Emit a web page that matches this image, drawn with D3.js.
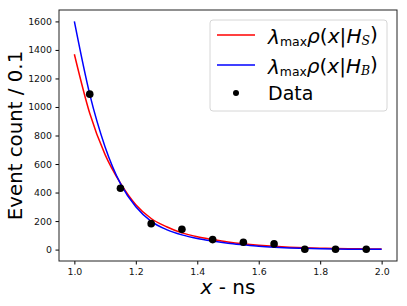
<!DOCTYPE html>
<html>
    <head>
        <title></title>
        <script src="https://d3js.org/d3.v7.min.js"></script>
    </head>

    <body style="margin:0">
        <svg id="my_dataviz" width="407" height="306"></svg>
    </body>

    <script>
        // data
        var dataX = [1.05, 1.15, 1.25, 1.35, 1.45, 1.55, 1.65, 1.75, 1.85, 1.95]
        var dataY = [1090, 430, 182, 142, 70, 51, 40, 2, 2, 2]

        // model curves, sampled every 0.05
        var curveX = [1.00, 1.05, 1.10, 1.15, 1.20, 1.25, 1.30, 1.35, 1.40, 1.45, 1.50,
                      1.55, 1.60, 1.65, 1.70, 1.75, 1.80, 1.85, 1.90, 1.95, 2.00]
        var signalY = [1370, 956, 666, 466, 315, 218, 160, 117, 90, 71, 54,
                       41, 31, 23, 17, 13, 10, 7, 6, 5, 4]
        var backgroundY = [1600, 1090, 720, 462, 300, 198, 140, 103, 78, 60, 45,
                           34, 24, 17, 12, 9, 6, 4, 3, 2, 2]

        var xTicks = [1.0, 1.2, 1.4, 1.6, 1.8, 2.0]
        var yTicks = [0, 200, 400, 600, 800, 1000, 1200, 1400, 1600]

        var margin = { top: 10, right: 10, bottom: 45, left: 59 }
        var width = 407 - margin.left - margin.right
        var height = 306 - margin.top - margin.bottom

        var svg = d3.select("#my_dataviz")
        .style("font-family", "DejaVu Sans")
        .append("g")
        .attr("transform", "translate(" + margin.left + "," + margin.top + ")")

        var x = d3.scaleLinear().domain([0.95, 2.05]).range([0, width])
        var y = d3.scaleLinear().domain([-80, 1680]).range([height, 0])

        // axes
        svg.append("g")
        .attr("transform", "translate(0," + height + ")")
        .call(d3.axisBottom(x).tickValues(xTicks).tickFormat(d3.format(".1f")).tickSize(3.5).tickPadding(3.5))
        svg.append("g")
        .call(d3.axisLeft(y).tickValues(yTicks).tickFormat(d3.format("d")).tickSize(3.5).tickPadding(3.5))

        svg.selectAll(".tick text")
        .style("font-size", "9.4px")
        .style("font-family", "DejaVu Sans")
        .attr("fill", "#111")
        svg.selectAll(".domain").remove()

        // frame
        svg.append("rect")
        .attr("width", width)
        .attr("height", height)
        .attr("fill", "none")
        .attr("stroke", "#222")
        .attr("stroke-width", 1)

        // lines
        var line = function(ys) {
            return d3.line()
            .x(function(d, i) { return x(curveX[i]) })
            .y(function(d) { return y(d) })
            .curve(d3.curveMonotoneX)(ys)
        }

        svg.append("path")
        .attr("d", line(signalY))
        .attr("fill", "none")
        .attr("stroke", "#ff0000")
        .attr("stroke-width", 1.5)

        svg.append("path")
        .attr("d", line(backgroundY))
        .attr("fill", "none")
        .attr("stroke", "#0000ff")
        .attr("stroke-width", 1.5)

        // points
        svg.selectAll(".dot")
        .data(dataX)
        .enter()
        .append("circle")
        .attr("cx", function(d) { return x(d) })
        .attr("cy", function(d, i) { return y(dataY[i]) })
        .attr("r", 3.8)
        .attr("fill", "black")

        // axis labels
        svg.append("text")
        .attr("x", width / 2)
        .attr("y", height + 33)
        .attr("text-anchor", "middle")
        .style("font-size", "20px")
        .html('<tspan font-style="italic">x</tspan> - ns')

        svg.append("text")
        .attr("transform", "translate(-37," + (height / 2) + ") rotate(-90)")
        .attr("text-anchor", "middle")
        .style("font-size", "19.8px")
        .text("Event count / 0.1")

        // legend
        var legend = svg.append("g").attr("transform", "translate(151,10)")
        legend.append("rect")
        .attr("width", 177)
        .attr("height", 91)
        .attr("rx", 3)
        .attr("fill", "white")
        .attr("fill-opacity", 0.8)
        .attr("stroke", "#d6d6d6")

        var mathLabel = function(sub) {
            return '<tspan font-style="italic">λ</tspan>' +
                '<tspan font-size="0.62em" dy="0.18em">max</tspan>' +
                '<tspan font-style="italic" dy="-0.18em">ρ</tspan>(' +
                '<tspan font-style="italic">x</tspan>|' +
                '<tspan font-style="italic">H</tspan>' +
                '<tspan font-family="DejaVu Serif" font-style="italic" font-size="0.62em" dy="0.18em">' + sub + '</tspan>' +
                '<tspan dy="-0.18em">)</tspan>'
        }

        var entries = [
            { color: "#ff0000", label: mathLabel("S") },
            { color: "#0000ff", label: mathLabel("B") }
        ]

        entries.forEach(function(e, i) {
            legend.append("line")
            .attr("x1", 7).attr("x2", 45)
            .attr("y1", 15 + i * 30).attr("y2", 15 + i * 30)
            .attr("stroke", e.color)
            .attr("stroke-width", 1.5)
            var t = legend.append("text")
            .attr("x", 58)
            .attr("y", 24 + i * 30)
            .style("font-size", "18px")
            .html(e.label)
            // fit the label to the width seen in the picture
            var w = t.node().getComputedTextLength()
            t.style("font-size", (18 * 110 / w) + "px")
        })

        legend.append("circle")
        .attr("cx", 26)
        .attr("cy", 73)
        .attr("r", 3)
        .attr("fill", "black")
        legend.append("text")
        .attr("x", 58)
        .attr("y", 80)
        .style("font-size", "19px")
        .text("Data")
    </script>
</html>
